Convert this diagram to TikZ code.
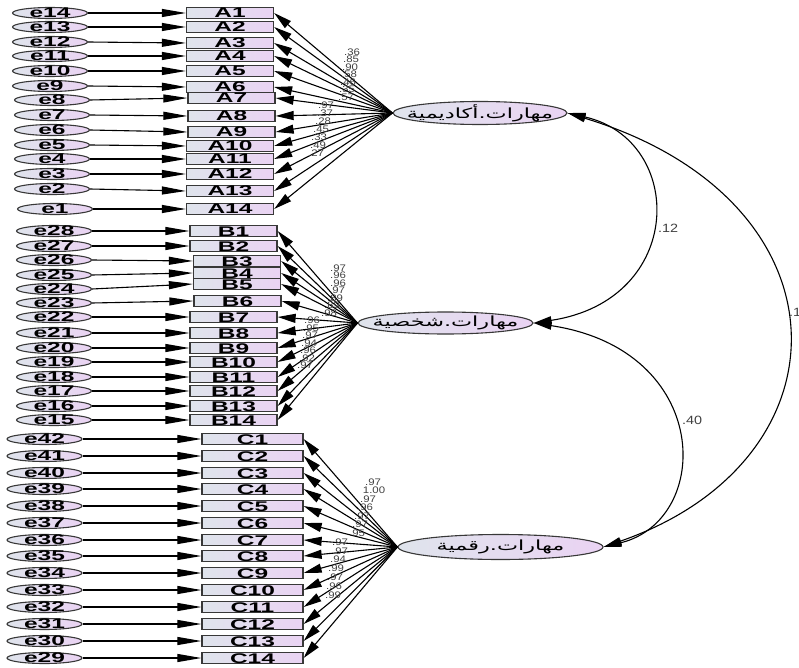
\documentclass[tikz,border=0pt]{standalone}
\usepackage{fontspec}
\setmainfont{Liberation Sans}
\newfontfamily\boxfont[FakeStretch=1.75]{Liberation Sans}
\newfontfamily\numfont[FakeStretch=1.2]{Liberation Sans}
\newfontfamily\arabicfont[Script=Arabic,FakeStretch=1.6]{DejaVu Sans}
\TeXXeTstate=1
\usetikzlibrary{arrows.meta,shapes.geometric}
\definecolor{semink}{HTML}{383838}
\definecolor{semgray}{HTML}{404040}
\definecolor{sembg}{HTML}{DFE4EC}
\definecolor{semlilac}{HTML}{EAD3F3}

\begin{document}
\begin{tikzpicture}[
  x=1pt, y=-1pt,
  tint/.style={left color=sembg, right color=semlilac},
  obs/.style={draw=semink, line width=1.3pt, tint, inner sep=0pt, minimum width=87pt, minimum height=11pt, text height=10pt, text depth=0pt, font=\boxfont\fontsize{14}{14}\selectfont\bfseries},
  wobs/.style={obs, minimum width=101pt},
  err/.style={ellipse, draw=semink, line width=1.1pt, tint, inner sep=0pt, minimum width=75pt, minimum height=11pt, label={[etxt]center:#1}},
  etxt/.style={inner sep=0pt, font=\boxfont\fontsize{14}{14}\selectfont\bfseries},
  lat/.style={ellipse, draw=semink, line width=1.1pt, tint, inner sep=0pt, minimum height=23pt, label={[ltxt]center:{\beginR #1\endR}}},
  ltxt/.style={inner sep=0pt, font=\arabicfont\fontsize{14}{14}\selectfont},
  ld/.style={-{Triangle[length=18pt, width=9pt]}, line width=1.1pt},
  ea/.style={-{Triangle[length=24pt, width=8pt]}, line width=1.1pt},
  cov/.style={{Triangle[length=18pt, width=8pt]}-{Triangle[length=18pt, width=8pt]}, line width=1.1pt},
  lbl/.style={inner sep=0pt, text=semgray, font=\numfont\fontsize{9.5}{9.5}\selectfont},
  rlbl/.style={lbl, font=\numfont\fontsize{12}{12}\selectfont}
]
\useasboundingbox (0,0) rectangle (799,668);
% Latent factors
\node[lat=مهارات.أكاديمية, minimum width=174pt] (acad) at (480,113) {};
\node[lat=مهارات.شخصية, minimum width=175pt, minimum height=22pt] (pers) at (445.5,323) {};
\node[lat=مهارات.رقمية, minimum width=205pt, minimum height=25pt] (digi) at (500.5,547) {};
% Block A: items, errors, loadings
\foreach \b/\y/\x/\e/\ey/\ex/\v/\lx/\ly in {
  A1/13/230/e14/13/50/.36/352/52, A2/27/230/e13/27/50/.85/351/59.5,
  A3/43/230/e12/42/50/.90/350/67, A4/56/230/e11/56/50/.58/349/74.5,
  A5/71/230/e10/71/50/.46/348/82, A6/87/230/e9/86/50/.35/347/89.5,
  A7/98/231.5/e8/100/52/.57/346/97, A8/116/231.5/e7/115/52/.97/326/105,
  A9/132/231.5/e6/130/52/.37/325/113, A10/146/230/e5/145/52/.28/323/121,
  A11/159/230/e4/159/52/.45/321/129, A12/174/230/e3/174/52/.33/319/137,
  A13/191/230/e2/189/52/.49/318/145, A14/209/230/e1/209/55/.27/316/153}
{
  \node[err=\e] (\e) at (\ex,\ey) {};
  \node[obs] (\b) at (\x,\y) {\b};
  \draw[ea] (\e.east) -- (\b.west);
  \draw[ld] (acad.west) -- (\b.east);
  \node[lbl] (v\b) at (\lx,\ly) {\v};
}
% Block B
\foreach \b/\y/\x/\e/\ey/\ex/\v/\lx/\ly in {
  B1/231/233.5/e28/231/54/.97/338/268, B2/246/233.5/e27/246/54/.96/338/275.5,
  B3/261/237/e26/260/54/.96/338/283, B4/273/237/e25/275/54/.97/337/290.5,
  B5/284/237/e24/289/54/.89/335/298, B6/301/237.5/e23/303/54/.89/332/305.5,
  B7/317/233.5/e22/317/54/.98/329/313, B8/333/233.5/e21/333/54/.96/312/320.5,
  B9/348/233.5/e20/348/54/.95/311/328, B10/362/233.5/e19/362/54/.97/310/335.5,
  B11/377/233.5/e18/377/54/.94/309/343, B12/391/233.5/e17/391/54/.96/308/350.5,
  B13/406/233.5/e16/406/54/.92/307/358, B14/420/233.5/e15/420/54/.97/305/365.5}
{
  \node[err=\e] (\e) at (\ex,\ey) {};
  \node[obs] (\b) at (\x,\y) {\b};
  \draw[ea] (\e.east) -- (\b.west);
  \draw[ld] (pers.west) -- (\b.east);
  \node[lbl] (v\b) at (\lx,\ly) {\v};
}
% Block C
\foreach \b/\y/\e/\v/\lx/\ly in {
  C1/439/e42/.97/373/482, C2/456/e41/1.00/374/490.5, C3/473/e40/.97/368/499,
  C4/489/e39/.96/365/507.5, C5/506/e38/.97/362/516, C6/523/e37/.97/360/524.5,
  C7/540/e36/.95/357/533, C8/556/e35/.97/340/542, C9/573/e34/.97/340/551,
  C10/590/e33/.94/338/559.5, C11/607/e32/.99/336/568, C12/624/e31/.97/335/577,
  C13/641/e30/.96/334/586, C14/658/e29/.99/333/595}
{
  \node[err=\e] (\e) at (44.5,\y) {};
  \node[wobs] (\b) at (252.5,\y) {\b};
  \draw[ea] (\e.east) -- (\b.west);
  \draw[ld] (digi.west) -- (\b.east);
  \node[lbl] (v\b) at (\lx,\ly) {\v};
}
% Correlations between factors
\draw[cov] (acad.east) .. controls (686,140) and (686,300) .. (pers.east);
\draw[cov] (pers.east) .. controls (713,350) and (713,520) .. (digi.east);
\draw[cov] (acad.east) .. controls (854,200) and (854,460) .. (digi.east);
\node[rlbl] (rap) at (668,228) {.12};
\node[rlbl] (rpd) at (692,420) {.40};
\node[rlbl, anchor=west] (rad) at (789,312) {.1};
\end{tikzpicture}
\end{document}
